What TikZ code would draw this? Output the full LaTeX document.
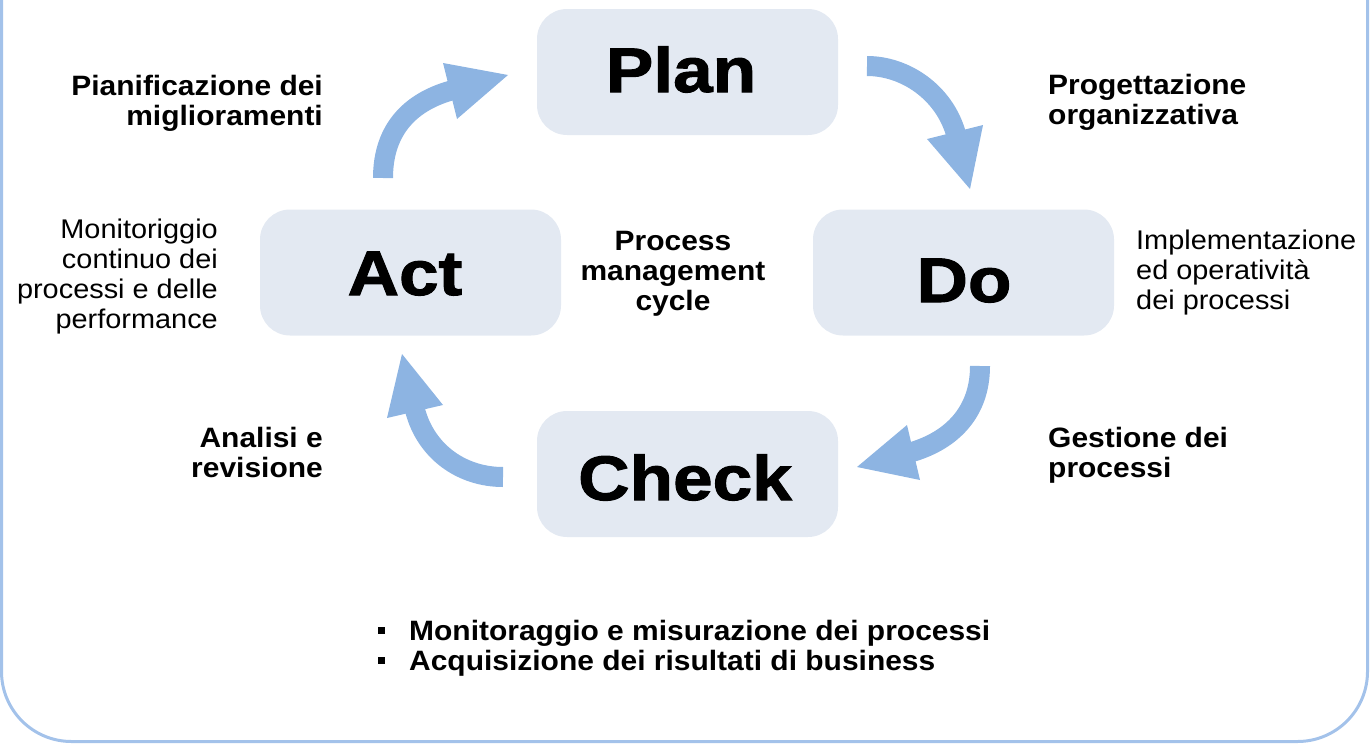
\documentclass[tikz,border=0pt]{standalone}
\usepackage{fontspec}
\setmainfont{Liberation Sans}
\newfontfamily\lblfont[FakeStretch=1.07]{Liberation Sans}
\newfontfamily\ttlfont[FakeStretch=1.13,BoldFeatures={FakeBold=1.6}]{Liberation Sans}
\definecolor{arrowblue}{HTML}{8DB4E2}
\definecolor{boxfill}{HTML}{E3E9F2}
\definecolor{frameblue}{HTML}{A3C2EA}
\begin{document}
\begin{tikzpicture}[x=1pt,y=-1pt,
  phase/.style={fill=boxfill, rounded corners=30pt, minimum width=301pt, minimum height=126pt, inner sep=0pt},
  ttl/.style={font=\ttlfont\bfseries\fontsize{63}{63}\selectfont, inner sep=0pt, anchor=base},
  blbl/.style={font=\lblfont\bfseries\fontsize{28}{30}\selectfont, inner sep=0pt},
  rlbl/.style={font=\lblfont\fontsize{27}{30}\selectfont, inner sep=0pt},
  shaft/.style={draw=arrowblue, line width=20pt},
  head/.style={fill=arrowblue, draw=none}]
\useasboundingbox (0,0) rectangle (1370,744);
\begin{scope}
\clip (0,0) rectangle (1370,744);
\draw[frameblue, line width=3pt, rounded corners=70pt] (1.5,-200) rectangle (1367.5,741.5);
\end{scope}

% phase boxes
\node[phase] (plan)  at (687.5,72)  {};
\node[phase] (act)   at (410.5,272.5) {};
\node[phase] (do)    at (963.5,272.5) {};
\node[phase] (check) at (687.5,474) {};

\node[ttl] (plant)  at (681,92)  {Plan};
\node[ttl] (actt)   at (405,295) {Act};
\node[ttl] (dot)    at (964,302) {Do};
\node[ttl] (checkt) at (685,500) {Check};

% arrows
\coordinate (a1s) at (383,178);
\coordinate (a1e) at (453,90);
\draw[shaft] (a1s) .. controls (383,128) and (412,101) .. (a1e);
\fill[head] (443,63) -- (508,75) -- (457,119) -- cycle;

\coordinate (a2s) at (867,66);
\coordinate (a2e) at (956,134);
\draw[shaft] (a2s) .. controls (905,66) and (944,92) .. (a2e);
\fill[head] (927,139) -- (970,189) -- (983,125) -- cycle;

\coordinate (a3s) at (980,366);
\coordinate (a3e) at (912,452);
\draw[shaft] (a3s) .. controls (980,412) and (952,440) .. (a3e);
\fill[head] (907,425) -- (857,467) -- (920,480) -- cycle;

\coordinate (a4s) at (503,477);
\coordinate (a4e) at (415,410);
\draw[shaft] (a4s) .. controls (462,477) and (426,452) .. (a4e);
\fill[head] (387,418) -- (402,354) -- (443,405) -- cycle;

% labels
\node[blbl, anchor=north east, align=right] (l1) at (323,75) {Pianificazione dei\\miglioramenti};
\node[blbl, anchor=north west, align=left] (l2) at (1048,74) {Progettazione\\organizzativa};
\node[rlbl, anchor=north east, align=right] (l3) at (218,219) {Monitoriggio\\continuo dei\\processi e delle\\performance};
\node[rlbl, anchor=north west, align=left] (l4) at (1136,230) {Implementazione\\ed operatività\\dei processi};
\node[blbl, anchor=north, align=center] (l5) at (673,231) {Process\\management\\cycle};
\node[blbl, anchor=north east, align=right] (l6) at (323,427) {Analisi e\\revisione};
\node[blbl, anchor=north west, align=left] (l7) at (1048,427) {Gestione dei\\processi};
\node[blbl, anchor=north west, align=left] (l8) at (378,620) {\rule[6pt]{7pt}{7pt}\hspace{24pt}Monitoraggio e misurazione dei processi\\\rule[6pt]{7pt}{7pt}\hspace{24pt}Acquisizione dei risultati di business};
\end{tikzpicture}
\end{document}
